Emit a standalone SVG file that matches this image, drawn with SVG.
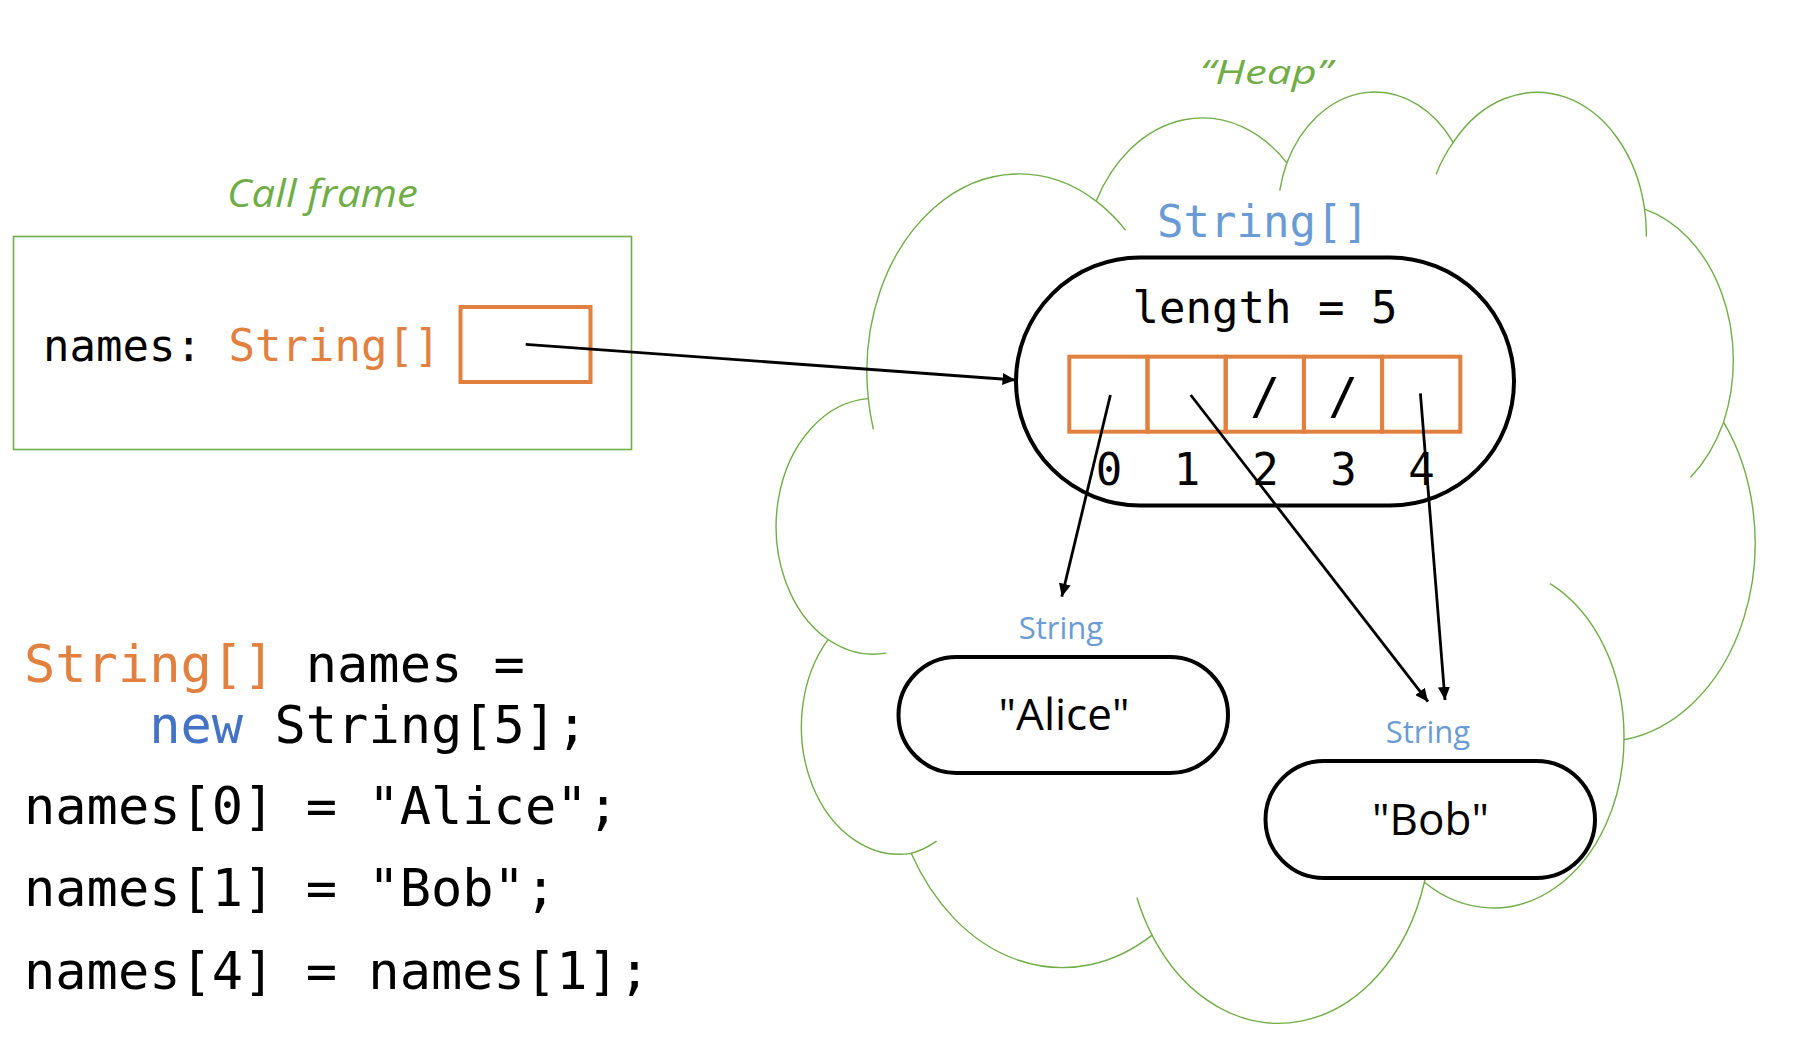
<svg xmlns="http://www.w3.org/2000/svg" width="1802" height="1041" viewBox="0 0 1802 1041">
<defs>
<style>
.mono{font-family:"DejaVu Sans Mono","Liberation Mono",monospace;}
.sans{font-family:"Open Sans","Liberation Sans",sans-serif;}
.hand{font-family:"Open Sans","Liberation Sans",sans-serif;font-style:italic;fill:#70AD47;}
.cloud{fill:none;stroke:#70AD47;stroke-width:1.4;}
.obj{fill:#fff;stroke:#000;stroke-width:4;}
.cell{fill:none;stroke:#E2803F;stroke-width:4;}
.conn{stroke:#000;stroke-width:2.8;fill:none;marker-end:url(#ah);}
.blue{fill:#6A9BD4;}
.orange{fill:#E2803F;}
</style>
<marker id="ah" markerUnits="userSpaceOnUse" markerWidth="14" markerHeight="12" refX="13" refY="6" orient="auto">
<path d="M0,0 L13,6 L0,12 Z" fill="#000"/>
</marker>
</defs>
<rect x="0" y="0" width="1802" height="1041" fill="#fff"/>

<g id="heap">
<path class="cloud" d="M 868.27 398.67 A 152.3 198.0 0 0 1 1096.19 201.11 A 120.3 156.6 0 0 1 1286.81 162.93 A 98.5 128.1 0 0 1 1453.22 142.46 A 109.6 142.1 0 0 1 1644.62 209.15 A 120.3 156.7 0 0 1 1723.58 422.14 A 152.8 198.7 0 0 1 1623.97 739.79 A 130.5 169.5 0 0 1 1424.38 882.23 A 152.3 198.6 0 0 1 1152.02 935.09 A 174.1 227.2 0 0 1 911.22 853.34 A 98.3 127.5 0 0 1 827.95 639.54 A 98.0 128.1 0 0 1 868.27 398.67 Z"/>
<path class="cloud" d="M 886.15 653.11 A 98.0 128.1 0 0 1 827.95 639.54 M 936.57 841.07 A 98.3 127.5 0 0 1 911.22 853.34 M 1152.02 935.09 A 152.3 198.6 0 0 1 1136.9 897.5 M 1430.52 837.88 A 152.3 198.6 0 0 1 1424.38 882.23 M 1550.12 583.66 A 130.5 169.5 0 0 1 1623.97 739.79 M 1723.58 422.14 A 120.3 156.7 0 0 1 1690.43 477.55 M 1644.62 209.15 A 109.6 142.1 0 0 1 1646.34 236.39 M 1436.18 174.17 A 109.6 142.1 0 0 1 1453.22 142.46 M 1279.71 190.72 A 98.5 128.1 0 0 1 1286.81 162.93 M 1096.19 201.11 A 152.3 198.0 0 0 1 1125.51 230.17 M 873.39 429.25 A 152.3 198.0 0 0 1 868.27 398.67"/>
<text class="hand" x="1200" y="84" font-size="32" textLength="132" lengthAdjust="spacingAndGlyphs">“Heap”</text>
</g>

<g id="callframe">
<rect x="13.5" y="236.5" width="618" height="213" fill="none" stroke="#70AD47" stroke-width="1.6"/>
<text class="hand" x="227" y="207" font-size="38" textLength="191" lengthAdjust="spacingAndGlyphs">Call frame</text>
<text class="mono" x="43" y="360.5" font-size="44">names: <tspan class="orange">String[]</tspan></text>
<rect x="460.5" y="307" width="130" height="75" fill="none" stroke="#E2803F" stroke-width="4"/>
</g>

<g id="code" class="mono" font-size="52">
<text x="24" y="682"><tspan class="orange">String[]</tspan> names =</text>
<text x="24" y="743" xml:space="preserve">    <tspan fill="#4472C4">new</tspan> String[5];</text>
<text x="24" y="824">names[0] = "Alice";</text>
<text x="24" y="906">names[1] = "Bob";</text>
<text x="24" y="989">names[4] = names[1];</text>
</g>

<g id="array">
<text class="mono blue" x="1263" y="237" font-size="44" text-anchor="middle">String[]</text>
<rect class="obj" x="1016" y="257.5" width="498" height="248" rx="124" ry="124"/>
<text class="mono" x="1265" y="323" font-size="44" text-anchor="middle">length = 5</text>
<rect class="cell" x="1069.3" y="356.7" width="78.2" height="75"/>
<rect class="cell" x="1147.5" y="356.7" width="78.2" height="75"/>
<rect class="cell" x="1225.7" y="356.7" width="78.2" height="75"/>
<rect class="cell" x="1303.9" y="356.7" width="78.2" height="75"/>
<rect class="cell" x="1382.1" y="356.7" width="78.2" height="75"/>
<text class="mono" x="1265" y="413" font-size="50" text-anchor="middle">/</text>
<text class="mono" x="1343" y="413" font-size="50" text-anchor="middle">/</text>
<g class="mono" font-size="44" text-anchor="middle">
<text x="1109" y="485">0</text>
<text x="1187" y="485">1</text>
<text x="1265.5" y="485">2</text>
<text x="1343.5" y="485">3</text>
<text x="1421.5" y="485">4</text>
</g>
</g>

<g id="alice">
<text class="sans blue" x="1061" y="639" font-size="31" text-anchor="middle">String</text>
<rect class="obj" x="898.5" y="657" width="329.5" height="116" rx="58" ry="58"/>
<text class="sans" x="1064" y="730" font-size="44" text-anchor="middle">"Alice"</text>
</g>

<g id="bob">
<text class="sans blue" x="1428" y="743" font-size="31" text-anchor="middle">String</text>
<rect class="obj" x="1265.5" y="761" width="329.5" height="117" rx="58.5" ry="58.5"/>
<text class="sans" x="1430.5" y="835" font-size="44" text-anchor="middle">"Bob"</text>
</g>

<g id="connectors">
<line class="conn" x1="525.7" y1="344.3" x2="1015.5" y2="380"/>
<line class="conn" x1="1110.4" y1="395" x2="1061.8" y2="596.7"/>
<line class="conn" x1="1190.7" y1="395" x2="1428" y2="701.7"/>
<line class="conn" x1="1420.4" y1="393.3" x2="1445" y2="700"/>
</g>
</svg>
